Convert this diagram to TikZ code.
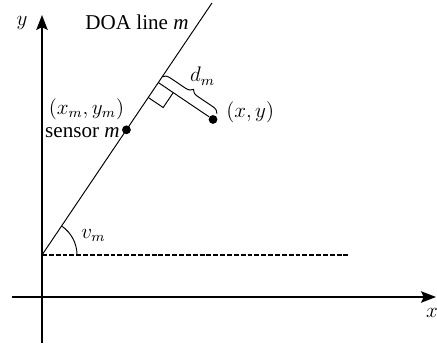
\documentclass[tikz,border=0pt]{standalone}
\usepackage{amsmath,amssymb}
\usepackage{fontspec}
\setmainfont{Liberation Serif}
\usepackage{tikz}
\usetikzlibrary{arrows.meta,calc,positioning,decorations.pathreplacing}

\begin{document}
\begin{tikzpicture}[x=0.02cm,y=0.02cm,
  every node/.style={font=\fontsize{12}{14}\selectfont},
  axis/.style={line width=0.85pt,-{Stealth[length=8.5pt,width=6.5pt,inset=1.5pt]}},
  doa/.style={line width=0.55pt},
  dot/.style={circle,fill,inner sep=0pt,minimum size=5pt}]
  \useasboundingbox (0,0) rectangle (437,345);

  % axes
  \coordinate (xl) at (12,48);
  \coordinate (xr) at (436,48);
  \coordinate (yb) at (42,2);
  \coordinate (yt) at (42,330);
  \draw[axis] (xl) -- (xr);
  \draw[axis] (yb) -- (yt);
  \node (xlab) at (432,32) {$x$};
  \node (ylab) at (22,322) {$y$};

  % DOA line and reference direction
  \coordinate (S0) at (42,90);
  \coordinate (H) at (350,90);
  \coordinate (T) at ($(S0)+(56:304)$);
  \draw[line width=0.7pt, dash pattern=on 2.8pt off 1.1pt] (S0) -- (H);
  \draw[doa] (S0) -- (T);
  \node (doalab) at (137,323) {DOA line \textit{m}};

  % sensor
  \node[dot] (sens) at ($(S0)+(56:151)$) {};
  \node[left=1pt of sens, inner sep=0pt, yshift=-1.5pt] (senslab) {sensor \textit{m}};
  \node[above=4pt of senslab, inner sep=0pt, xshift=2.3pt] (xmlab) {$(x_m,y_m)$};

  % target point and its distance to the line
  \coordinate (F) at ($(S0)+(56:208)$);
  \node[dot] (P) at ($(F)+(-34:66)$) {};
  \draw[doa] (F) -- (P);
  \draw[doa] ($(F)+(236:18)$) -- ++(-34:18) -- ($(F)+(-34:18)$);
  \node[anchor=west, xshift=4pt, yshift=4pt] (plab) at (P) {$(x,y)$};
  \draw[doa, decorate, decoration={brace, amplitude=4pt}] ($(F)+(56:7)$) -- ($(P)+(56:7)$);
  \node (dlab) at ($(F)!0.5!(P)+(56:30)$) {$d_m$};

  % angle
  \draw[doa] ($(S0)+(35,0)$) arc[start angle=0, end angle=56, radius=0.7cm];
  \node (vlab) at ($(S0)+(21:55)$) {$v_m$};
\end{tikzpicture}
\end{document}
